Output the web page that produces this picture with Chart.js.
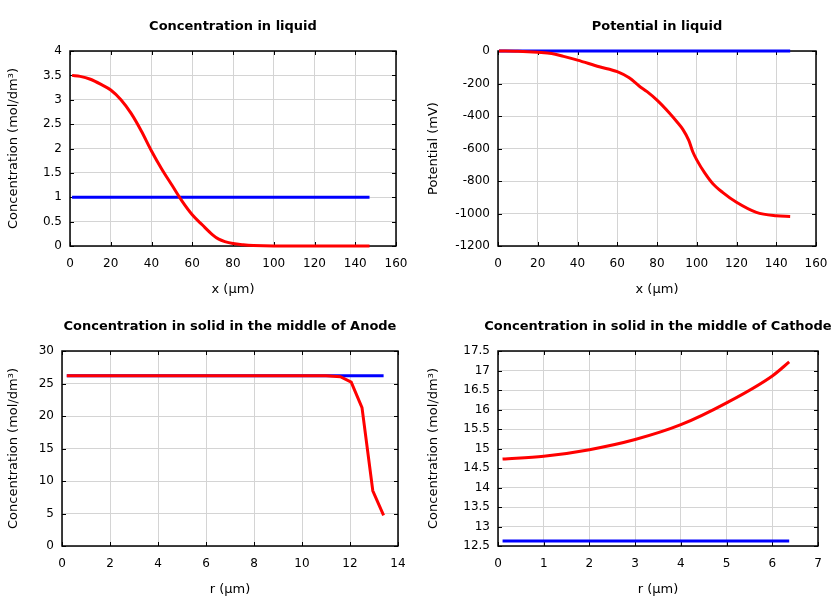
<!DOCTYPE html>
<html>
<head>
<meta charset="utf-8">
<script src="https://cdn.jsdelivr.net/npm/chart.js@4.4.1/dist/chart.umd.min.js"></script>
<style>
  html, body { margin: 0; padding: 0; background: #fff; }
  #wrap { position: relative; width: 840px; height: 600px; }
  canvas { position: absolute; }
</style>
</head>
<body>
<div id="wrap">
  <canvas id="c1" width="420" height="300" style="left:0;top:0"></canvas>
  <canvas id="c2" width="420" height="300" style="left:420px;top:0"></canvas>
  <canvas id="c3" width="420" height="300" style="left:0;top:300px"></canvas>
  <canvas id="c4" width="420" height="300" style="left:420px;top:300px"></canvas>
</div>
<script>
// concentration in liquid
const liqX = [1, 5, 10, 15, 20, 25, 30, 35, 40, 45, 50, 55, 60, 65, 70, 73, 76, 80, 85, 90, 100, 120, 147];
const liqConcRed = [3.5, 3.48, 3.42, 3.32, 3.2, 3.0, 2.72, 2.36, 1.95, 1.58, 1.25, 0.92, 0.64, 0.43, 0.23, 0.14, 0.09, 0.05, 0.025, 0.01, 0, 0, 0];
const liqConcBlueX = [1, 147];
const liqConcBlue = [1, 1];

// potential in liquid
const potX = [0.5, 10, 20, 27, 33, 40, 51, 60, 66, 71, 75, 80, 86, 90, 93, 96, 98, 100, 104, 108, 113, 120, 130, 140, 147];
const potRed = [0, -2, -8, -15, -33, -56, -97, -127, -165, -215, -250, -302, -378, -435, -482, -550, -620, -670, -750, -815, -870, -931, -993, -1014, -1018];
const potBlueX = [0.5, 147];
const potBlue = [0, 0];

// anode solid
const anodeX = [0.2, 11, 11.6, 12.05, 12.5, 12.95, 13.4];
const anodeRed = [26.2, 26.2, 26.05, 25.2, 21.3, 8.5, 4.7];
const anodeBlueX = [0.2, 13.4];
const anodeBlue = [26.2, 26.2];

// cathode solid
const cathX = [0.1, 1, 2, 3, 4, 5, 6, 6.37];
const cathRed = [14.73, 14.8, 14.97, 15.23, 15.61, 16.17, 16.86, 17.22];
const cathBlueX = [0.1, 6.37];
const cathBlue = [12.63, 12.63];

const FONT = "'DejaVu Sans', sans-serif";

function pts(xs, ys) {
  return xs.map((x, i) => ({ x: x, y: ys[i] }));
}

// frame + inward ticks under the lines, centred title on top
const framePlugin = {
  id: "frame",
  beforeDatasetsDraw(chart) {
    const { ctx, chartArea: a, scales } = chart;
    ctx.save();
    ctx.strokeStyle = "#000";
    ctx.lineWidth = 1;
    const tl = 4;
    ctx.beginPath();
    scales.x.ticks.forEach(t => {
      const px = Math.round(scales.x.getPixelForValue(t.value)) + 0.5;
      ctx.moveTo(px, a.bottom); ctx.lineTo(px, a.bottom - tl);
      ctx.moveTo(px, a.top); ctx.lineTo(px, a.top + tl);
    });
    scales.y.ticks.forEach(t => {
      const py = Math.round(scales.y.getPixelForValue(t.value)) + 0.5;
      ctx.moveTo(a.left, py); ctx.lineTo(a.left + tl, py);
      ctx.moveTo(a.right, py); ctx.lineTo(a.right - tl, py);
    });
    ctx.stroke();
    ctx.lineWidth = 1.5;
    ctx.strokeRect(a.left, a.top, a.right - a.left, a.bottom - a.top);
    ctx.restore();
  },
  afterDraw(chart, args, opts) {
    const { ctx, chartArea: a } = chart;
    ctx.save();
    ctx.fillStyle = "#000";
    ctx.font = "bold 13px " + FONT;
    ctx.textAlign = "center";
    ctx.textBaseline = "middle";
    ctx.fillText(opts.text, (a.left + a.right) / 2, 27);
    ctx.restore();
  }
};

function makeChart(id, title, xTitle, yTitle, xr, yr, red, blue, yWidth, rightPad, smooth) {
  return new Chart(document.getElementById(id), {
    type: "line",
    data: {
      datasets: [
        {
          data: red, borderColor: "#ff0000", borderWidth: 3, pointRadius: 0, clip: false,
          cubicInterpolationMode: smooth ? "monotone" : "default", tension: 0
        },
        { data: blue, borderColor: "#0000ff", borderWidth: 3, pointRadius: 0, clip: false, tension: 0 },
      ],
    },
    options: {
      responsive: false,
      animation: false,
      devicePixelRatio: 1,
      layout: { padding: { top: 51, right: rightPad, bottom: 0, left: 0 } },
      plugins: {
        legend: { display: false },
        tooltip: { enabled: false },
        frame: { text: title },
      },
      scales: {
        x: {
          type: "linear",
          min: xr[0], max: xr[1],
          ticks: {
            stepSize: xr[2], color: "#000", font: { family: FONT, size: 12 }, padding: 11, maxRotation: 0,
            callback: v => String(v),
          },
          grid: { color: "#d4d4d4", drawTicks: false },
          border: { display: false },
          title: { display: true, text: xTitle, color: "#000", font: { family: FONT, size: 13 }, padding: 3 },
          afterFit: s => { s.height = 54; },
        },
        y: {
          min: yr[0], max: yr[1],
          ticks: {
            stepSize: yr[2], color: "#000", font: { family: FONT, size: 12 }, padding: 8,
            callback: v => String(v),
          },
          grid: { color: "#d4d4d4", drawTicks: false },
          border: { display: false },
          title: { display: true, text: yTitle, color: "#000", font: { family: FONT, size: 13 }, padding: 6 },
          afterFit: s => { s.width = yWidth; },
        },
      },
    },
    plugins: [framePlugin],
  });
}

const concTitle = "Concentration (mol/dm\u00b3)";

makeChart("c1", "Concentration in liquid", "x (\u00b5m)", concTitle,
  [0, 160, 20], [0, 4, 0.5],
  pts(liqX, liqConcRed), pts(liqConcBlueX, liqConcBlue), 70, 24, true);

makeChart("c2", "Potential in liquid", "x (\u00b5m)", "Potential (mV)",
  [0, 160, 20], [-1200, 0, 200],
  pts(potX, potRed), pts(potBlueX, potBlue), 78, 24, true);

makeChart("c3", "Concentration in solid in the middle of Anode", "r (\u00b5m)", concTitle,
  [0, 14, 2], [0, 30, 5],
  pts(anodeX, anodeRed), pts(anodeBlueX, anodeBlue), 62, 22, false);

makeChart("c4", "Concentration in solid in the middle of Cathode", "r (\u00b5m)", concTitle,
  [0, 7, 1], [12.5, 17.5, 0.5],
  pts(cathX, cathRed), pts(cathBlueX, cathBlue), 78, 22, true);
</script>
</body>
</html>
